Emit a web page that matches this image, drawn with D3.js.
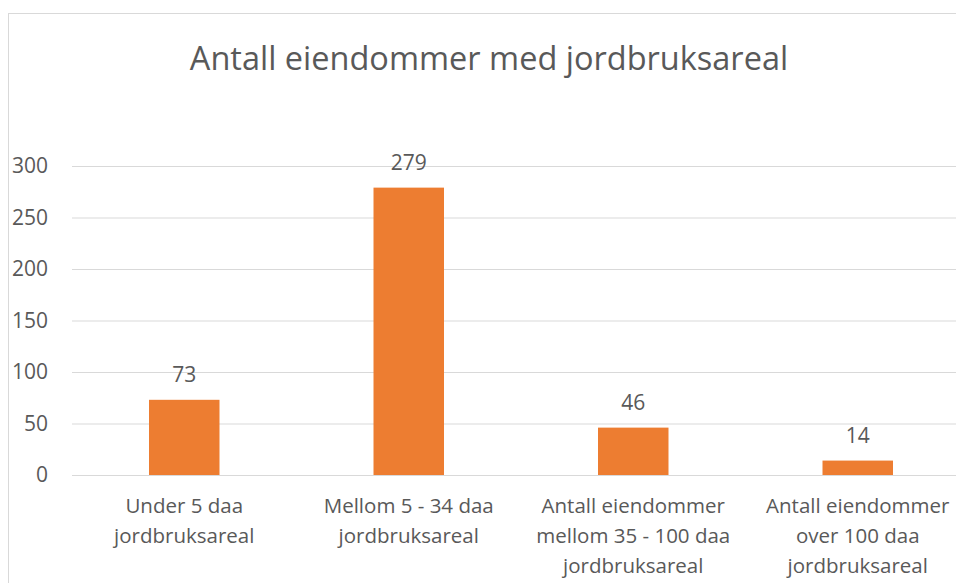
<!DOCTYPE html>
<html>
<head>
<meta charset="utf-8">
<script src="https://cdn.jsdelivr.net/npm/d3@7"></script>
<style>
  html, body { margin: 0; padding: 0; background: #fff; overflow: hidden; }
  text { font-family: "Open Sans", "Noto Sans", sans-serif; fill: #595959; }
</style>
</head>
<body>
<div id="chart"></div>
<script>
const title = "Antall eiendommer med jordbruksareal";
const categories = [
  ["Under 5 daa", "jordbruksareal"],
  ["Mellom 5 - 34 daa", "jordbruksareal"],
  ["Antall eiendommer", "mellom 35 - 100 daa", "jordbruksareal"],
  ["Antall eiendommer", "over 100 daa", "jordbruksareal"]
];
const values = [73, 279, 46, 14];
const yTicks = [0, 50, 100, 150, 200, 250, 300];

const width = 956, height = 583;
const margin = { top: 166, right: -14, bottom: 108, left: 72 };

const svg = d3.select("#chart")
  .append("svg")
  .attr("width", width)
  .attr("height", height);

// chart frame (cropped on right and bottom like the source)
svg.append("rect")
  .attr("x", 8.5).attr("y", 13.5)
  .attr("width", 1000).attr("height", 1000)
  .attr("fill", "none")
  .attr("stroke", "#d9d9d9")
  .attr("stroke-width", 1);

svg.append("text")
  .attr("x", 489).attr("y", 70)
  .attr("text-anchor", "middle")
  .attr("font-size", 32.5)
  .text(title);

const x = d3.scaleBand()
  .domain(d3.range(values.length))
  .range([margin.left, width - margin.right])
  .paddingInner(0.686)
  .paddingOuter(0.343);

const y = d3.scaleLinear()
  .domain([0, 300])
  .range([height - margin.bottom, margin.top]);

// gridlines + y labels
const yAxis = svg.append("g")
  .attr("transform", `translate(${margin.left},0)`)
  .call(d3.axisLeft(y).tickValues(yTicks)
    .tickSize(-(width - margin.right - margin.left))
    .tickPadding(24));
yAxis.select(".domain").remove();
yAxis.selectAll(".tick line").attr("stroke", "#d9d9d9").attr("stroke-width", 1);
yAxis.selectAll(".tick text")
  .attr("font-size", 21)
  .attr("fill", "#595959")
  .style("font-family", "'Open Sans', 'Noto Sans', sans-serif");

// bars
svg.append("g")
  .selectAll("rect")
  .data(values)
  .join("rect")
  .attr("x", (d, i) => x(i))
  .attr("y", d => y(d))
  .attr("width", x.bandwidth())
  .attr("height", d => y(0) - y(d))
  .attr("fill", "#ed7d31");

// value labels
svg.append("g")
  .selectAll("text")
  .data(values)
  .join("text")
  .attr("x", (d, i) => x(i) + x.bandwidth() / 2)
  .attr("y", d => y(d) - 18)
  .attr("text-anchor", "middle")
  .attr("font-size", 21)
  .attr("fill", "#404040")
  .text(d => d);

// category labels
const cat = svg.append("g")
  .selectAll("text")
  .data(categories)
  .join("text")
  .attr("x", (d, i) => x(i) + x.bandwidth() / 2)
  .attr("y", 513)
  .attr("text-anchor", "middle")
  .attr("font-size", 20.5);
cat.selectAll("tspan")
  .data(d => d)
  .join("tspan")
  .attr("x", function () { return d3.select(this.parentNode).attr("x"); })
  .attr("dy", (d, i) => i === 0 ? 0 : 30)
  .text(d => d);
</script>
</body>
</html>
